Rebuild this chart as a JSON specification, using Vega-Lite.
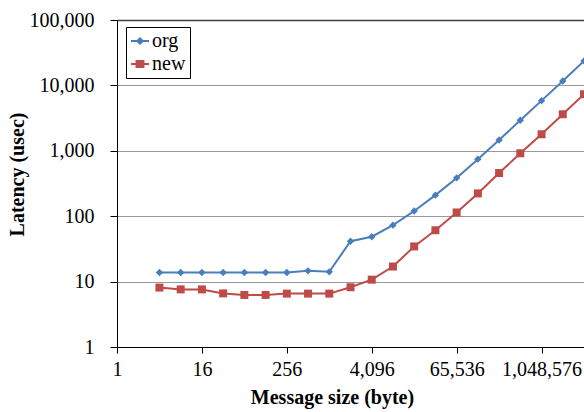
{
  "$schema": "https://vega.github.io/schema/vega-lite/v6.json",
  "autosize": {"type": "none"},
  "padding": {"left": 117, "top": 20, "right": 0, "bottom": 65},
  "width": 467,
  "height": 327,
  "background": "white",
  "config": {
    "view": {"stroke": null},
    "font": "Times New Roman, Liberation Serif, serif",
    "axis": {
      "labelFont": "Times New Roman, Liberation Serif, serif",
      "labelFontSize": 20,
      "labelColor": "black",
      "titleFont": "Times New Roman, Liberation Serif, serif",
      "titleFontSize": 20,
      "titleFontWeight": "bold",
      "titleColor": "black",
      "domainColor": "black",
      "domainWidth": 1,
      "tickColor": "black",
      "tickWidth": 1
    },
    "legend": {
      "labelFont": "Times New Roman, Liberation Serif, serif"
    }
  },
  "data": {
    "values": [
      {"size": 4, "series": "org", "latency": 13.8},
      {"size": 8, "series": "org", "latency": 13.8},
      {"size": 16, "series": "org", "latency": 13.8},
      {"size": 32, "series": "org", "latency": 13.8},
      {"size": 64, "series": "org", "latency": 13.8},
      {"size": 128, "series": "org", "latency": 13.8},
      {"size": 256, "series": "org", "latency": 13.8},
      {"size": 512, "series": "org", "latency": 14.6},
      {"size": 1024, "series": "org", "latency": 14.1},
      {"size": 2048, "series": "org", "latency": 41.5},
      {"size": 4096, "series": "org", "latency": 48.5},
      {"size": 8192, "series": "org", "latency": 73},
      {"size": 16384, "series": "org", "latency": 120},
      {"size": 32768, "series": "org", "latency": 210},
      {"size": 65536, "series": "org", "latency": 385},
      {"size": 131072, "series": "org", "latency": 745},
      {"size": 262144, "series": "org", "latency": 1460},
      {"size": 524288, "series": "org", "latency": 2930},
      {"size": 1048576, "series": "org", "latency": 5850},
      {"size": 2097152, "series": "org", "latency": 11700},
      {"size": 4194304, "series": "org", "latency": 23700},
      {"size": 4, "series": "new", "latency": 8.1},
      {"size": 8, "series": "new", "latency": 7.6},
      {"size": 16, "series": "new", "latency": 7.6},
      {"size": 32, "series": "new", "latency": 6.6},
      {"size": 64, "series": "new", "latency": 6.25},
      {"size": 128, "series": "new", "latency": 6.25},
      {"size": 256, "series": "new", "latency": 6.55},
      {"size": 512, "series": "new", "latency": 6.55},
      {"size": 1024, "series": "new", "latency": 6.55},
      {"size": 2048, "series": "new", "latency": 8.2},
      {"size": 4096, "series": "new", "latency": 10.7},
      {"size": 8192, "series": "new", "latency": 17.0},
      {"size": 16384, "series": "new", "latency": 34.5},
      {"size": 32768, "series": "new", "latency": 61},
      {"size": 65536, "series": "new", "latency": 114},
      {"size": 131072, "series": "new", "latency": 223},
      {"size": 262144, "series": "new", "latency": 457},
      {"size": 524288, "series": "new", "latency": 916},
      {"size": 1048576, "series": "new", "latency": 1790},
      {"size": 2097152, "series": "new", "latency": 3620},
      {"size": 4194304, "series": "new", "latency": 7330}
    ]
  },
  "encoding": {
    "x": {
      "field": "size",
      "type": "quantitative",
      "scale": {"type": "log", "base": 2, "domain": [1, 4194304], "nice": false},
      "axis": {
        "title": "Message size (byte)",
        "values": [1, 16, 256, 4096, 65536, 1048576],
        "format": ",",
        "grid": false,
        "tickSize": 6,
        "labelPadding": 6,
        "labelFlush": false,
        "labelOverlap": false,
        "titleX": 215,
        "titleY": 56,
        "titleAnchor": "middle",
        "titleAlign": "center",
        "titleBaseline": "alphabetic"
      }
    },
    "y": {
      "field": "latency",
      "type": "quantitative",
      "scale": {"type": "log", "domain": [1, 100000], "nice": false},
      "axis": {
        "title": "Latency (usec)",
        "values": [1, 10, 100, 1000, 10000, 100000],
        "format": ",",
        "grid": true,
        "gridColor": {"condition": {"test": "datum.value >= 100000", "value": "#404040"}, "value": "#999999"},
        "gridWidth": {"condition": {"test": "datum.value >= 100000", "value": 1.5}, "value": 1},
        "tickSize": 7,
        "labelPadding": 16,
        "labelFlush": false,
        "labelOverlap": false,
        "titleX": -94,
        "titleY": 154,
        "titleAngle": -90,
        "titleAlign": "center",
        "titleBaseline": "alphabetic"
      }
    }
  },
  "layer": [
    {
      "mark": {"type": "line", "strokeWidth": 2, "clip": false},
      "encoding": {
        "color": {
          "field": "series",
          "type": "nominal",
          "scale": {"domain": ["org", "new"], "range": ["#4A7EBB", "#BE4B48"]},
          "legend": {
            "title": null,
            "orient": "none",
            "legendX": 9,
            "legendY": 7,
            "strokeColor": "black",
            "fillColor": "white",
            "padding": 4,
            "labelFont": "Times New Roman, Liberation Serif, serif",
            "labelFontSize": 20,
            "labelColor": "black",
            "labelOffset": 2,
            "symbolSize": 324,
            "symbolStrokeWidth": 2,
            "rowPadding": 3,
            "encode": {
              "symbols": {
                "update": {
                  "shape": {"signal": "datum.value == 'org' ? 'M-1,0L-0.3,0L0,-0.3L0.3,0L1,0L0.3,0L0,0.3L-0.3,0Z' : 'M-1,0L-0.38,0L-0.38,-0.33L0.38,-0.33L0.38,0L1,0L0.38,0L0.38,0.33L-0.38,0.33L-0.38,0Z'"},
                  "fill": {"signal": "datum.value == 'org' ? '#4A7EBB' : '#BE4B48'"},
                  "stroke": {"signal": "datum.value == 'org' ? '#4A7EBB' : '#BE4B48'"},
                  "strokeWidth": {"value": 2},
                  "size": {"value": 324},
                  "opacity": {"value": 1},
                  "strokeOpacity": {"value": 1}
                }
              }
            }
          }
        }
      }
    },
    {
      "mark": {"type": "point", "filled": true, "opacity": 1, "clip": false},
      "encoding": {
        "fill": {
          "field": "series",
          "type": "nominal",
          "scale": {"domain": ["new", "org"], "range": ["#BE4B48", "#4A7EBB"]},
          "legend": null
        },
        "shape": {
          "field": "series",
          "type": "nominal",
          "scale": {"domain": ["new", "org"], "range": ["square", "diamond"]},
          "legend": null
        },
        "size": {
          "field": "series",
          "type": "nominal",
          "scale": {"domain": ["new", "org"], "range": [64, 55]},
          "legend": null
        }
      }
    }
  ]
}
